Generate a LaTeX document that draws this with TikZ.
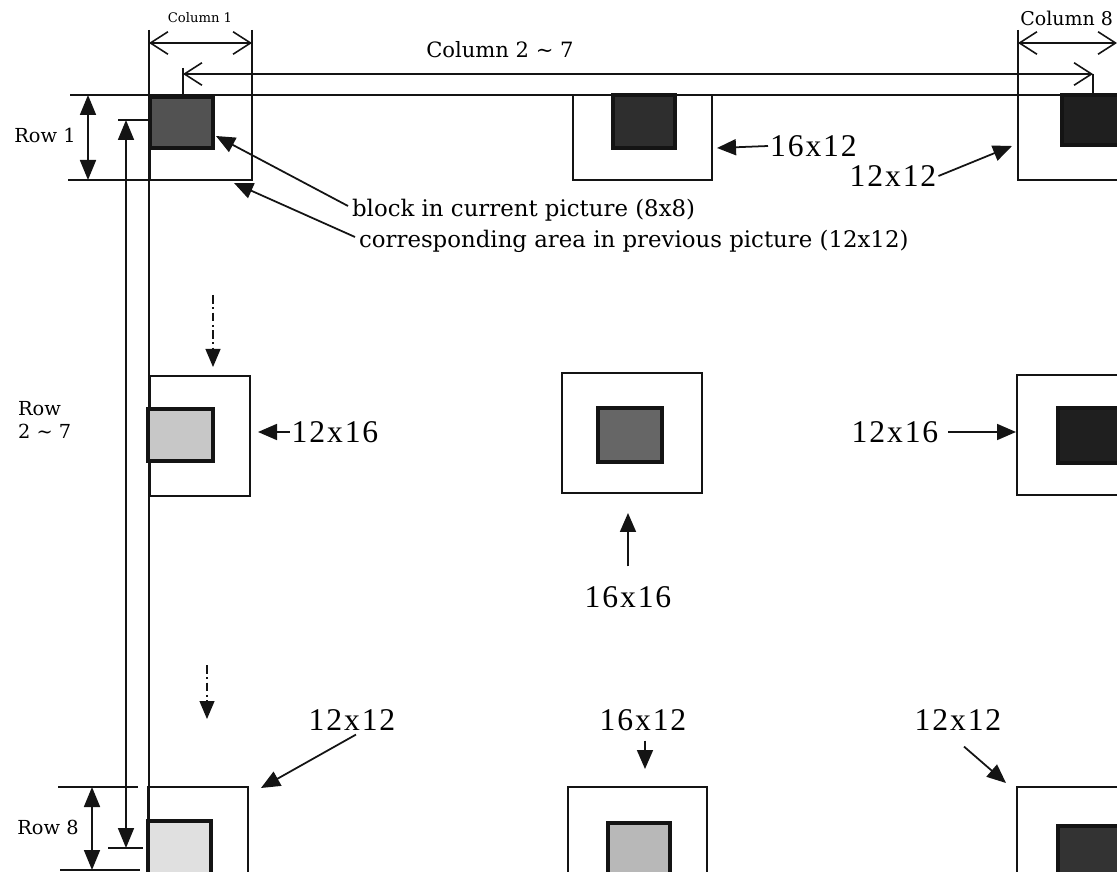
\documentclass[tikz,border=0pt]{standalone}
\usepackage{fontspec}
\setmainfont{Liberation Serif}
\newfontfamily\lblfont{DejaVu Serif}
\newfontfamily\sizefont[LetterSpace=6]{Liberation Serif}
\usetikzlibrary{arrows.meta, positioning, calc}
\definecolor{inkblack}{RGB}{20, 20, 20}

\begin{document}
\begin{tikzpicture}[
    x=0.2mm, y=-0.2mm,
    guide/.style={draw=inkblack, line width=1pt},
    outerbox/.style={draw=inkblack, line width=0.6pt},
    blockbox/.style={draw=inkblack, line width=1.8pt},
    dimarrow/.style={{Straight Barb[length=3.5mm,width=4.5mm]}-{Straight Barb[length=3.5mm,width=4.5mm]},
                     line width=0.9pt, inkblack},
    rowarrow/.style={{Triangle[length=4mm,width=3.2mm]}-{Triangle[length=4mm,width=3.2mm]},
                     line width=1pt, inkblack},
    ptr/.style={-{Triangle[length=3.8mm,width=3.2mm]}, line width=1pt, inkblack},
    flow/.style={-{Triangle[length=3.6mm,width=3mm]}, line width=0.6pt, inkblack,
                 dash pattern=on 5pt off 2pt on 1pt off 2pt},
    size/.style={font=\sizefont\fontsize{18}{20}\selectfont, inner sep=1pt},
    note/.style={font=\lblfont\fontsize{13}{15}\selectfont, inner sep=1pt, anchor=west},
    dimlbl/.style={font=\lblfont\fontsize{11}{13}\selectfont, inner sep=1pt, align=left},
]
    \useasboundingbox (0,0) rectangle (1117,872);
    \clip (0,0) rectangle (1117,872);
    \fill[white] (0,0) rectangle (1117,872);

    % extension lines
    \draw[guide] (70,95) -- (1117,95);
    \draw[guide] (68,180) -- (252,180);
    \draw[guide] (149,30) -- (149,872);
    \draw[guide] (252,30) -- (252,180);
    \draw[guide] (1018,30) -- (1018,180);
    \draw[guide] (183,68) -- (183,95);
    \draw[guide] (1093,74) -- (1093,95);
    \draw[guide] (118,120) -- (150,120);
    \draw[guide] (108,848) -- (143,848);
    \draw[guide] (58,787) -- (138,787);
    \draw[guide] (60,870) -- (140,870);

    % dimension arrows
    \coordinate (c1a) at (149,43);
    \coordinate (c1b) at (252,43);
    \coordinate (c27a) at (183,74);
    \coordinate (c27b) at (1093,74);
    \coordinate (c8a) at (1018,43);
    \coordinate (c8b) at (1117,43);
    \coordinate (r1a) at (88,95);
    \coordinate (r1b) at (88,180);
    \coordinate (r8a) at (92,787);
    \coordinate (r8b) at (92,870);
    \coordinate (r27a) at (126,120);
    \coordinate (r27b) at (126,848);
    \draw[dimarrow] (c1a) -- (c1b);
    \draw[dimarrow] (c27a) -- (c27b);
    \draw[dimarrow] (c8a) -- (c8b);
    \draw[rowarrow] (r1a) -- (r1b);
    \draw[rowarrow] (r8a) -- (r8b);
    \draw[rowarrow] (r27a) -- (r27b);

    \node[dimlbl, font=\lblfont\fontsize{7.5}{9}\selectfont] (col1) at (200,18) {Column 1};
    \node[dimlbl, font=\lblfont\fontsize{12}{14}\selectfont] (col27) at (500,50) {Column 2 \char`\~{} 7};
    \node[dimlbl, font=\lblfont\fontsize{10.8}{13}\selectfont, anchor=west, inner sep=0pt] (col8) at (1020,18) {Column 8};
    \node[dimlbl] (row1) at (45,135) {Row 1};
    \node[dimlbl, anchor=west] (row27) at (16,420) {Row\\2 \char`\~{} 7};
    \node[dimlbl] (row8) at (48,827) {Row 8};

    % previous picture areas
    \draw[outerbox] (150,95) rectangle (252,180);
    \draw[outerbox] (573,95) rectangle (712,180);
    \draw[outerbox] (1018,95) rectangle (1140,180);
    \draw[outerbox] (150,376) rectangle (250,496);
    \draw[outerbox] (562,373) rectangle (702,493);
    \draw[outerbox] (1017,375) rectangle (1140,495);
    \draw[outerbox] (148,787) rectangle (248,890);
    \draw[outerbox] (568,787) rectangle (707,890);
    \draw[outerbox] (1017,787) rectangle (1140,890);

    % blocks in current picture
    \filldraw[blockbox, fill=black!68] (150,97) rectangle (213,148);
    \filldraw[blockbox, fill=black!82] (613,95) rectangle (675,148);
    \filldraw[blockbox, fill=black!88] (1062,95) rectangle (1140,145);
    \filldraw[blockbox, fill=black!22] (148,409) rectangle (213,461);
    \filldraw[blockbox, fill=black!60] (598,408) rectangle (662,462);
    \filldraw[blockbox, fill=black!88] (1058,408) rectangle (1140,463);
    \filldraw[blockbox, fill=black!12] (148,821) rectangle (211,890);
    \filldraw[blockbox, fill=black!28] (608,823) rectangle (670,890);
    \filldraw[blockbox, fill=black!80] (1058,826) rectangle (1140,890);

    % legend
    \node[note] (curblk) at (350,210) {block in current picture (8x8)};
    \node[note] (prevarea) at (357,241) {corresponding area in previous picture (12x12)};
    \coordinate (blk11) at (216,136);
    \coordinate (area11) at (234,183);
    \draw[ptr] (curblk.west) ++(-2,-4) -- (blk11);
    \draw[ptr] (prevarea.west) ++(-2,-4) -- (area11);

    % size labels
    \node[size, anchor=west] (s1m) at (768,146) {16x12};
    \node[size] (s1r) at (893,176) {12x12};
    \node[size] (s2l) at (335,432) {12x16};
    \node[size] (s2m) at (628,597) {16x16};
    \node[size] (s2r) at (895,432) {12x16};
    \node[size] (s8l) at (352,720) {12x12};
    \node[size] (s8m) at (643,720) {16x12};
    \node[size] (s8r) at (958,720) {12x12};

    \coordinate (t1m) at (717,148);
    \coordinate (t1r) at (1012,146);
    \coordinate (t2l) at (258,432);
    \coordinate (t2m) at (628,513);
    \coordinate (t2r) at (1016,432);
    \coordinate (t8l) at (261,788);
    \coordinate (t8m) at (645,769);
    \coordinate (t8r) at (1006,783);
    \draw[ptr] (s1m.west) -- (t1m);
    \draw[ptr] (s1r.east) -- (t1r);
    \draw[ptr] (s2l.west) -- (t2l);
    \draw[ptr] ($(s2m.north)+(0,-18)$) -- (t2m);
    \draw[ptr] (s2r.east) ++(8,0) -- (t2r);
    \draw[ptr] ($(s8l.south)+(4,2)$) -- (t8l);
    \draw[ptr] ($(s8m.south)+(2,8)$) -- (t8m);
    \draw[ptr] ($(s8r.south)+(6,14)$) -- (t8r);

    % scan order
    \coordinate (f1a) at (213,295);
    \coordinate (f1b) at (213,367);
    \coordinate (f2a) at (207,665);
    \coordinate (f2b) at (207,719);
    \draw[flow] (f1a) -- (f1b);
    \draw[flow] (f2a) -- (f2b);
\end{tikzpicture}
\end{document}
